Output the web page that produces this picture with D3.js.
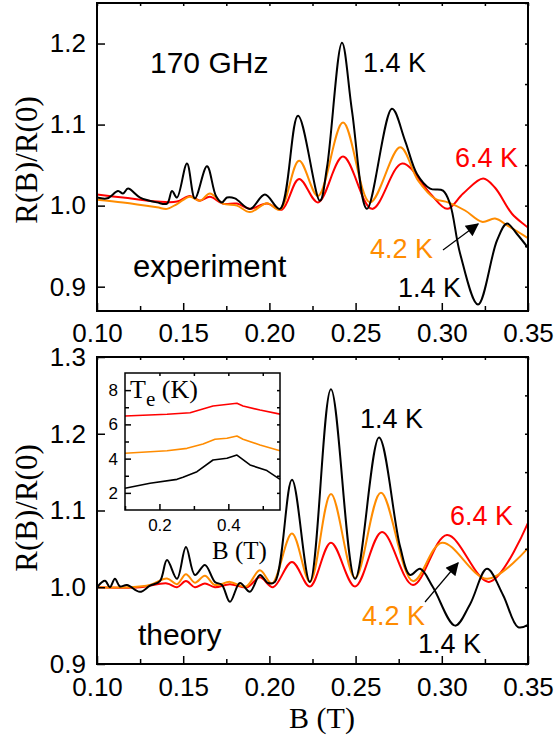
<!DOCTYPE html>
<html>
<head>
<meta charset="utf-8">
<script src="https://cdn.jsdelivr.net/npm/d3@7"></script>
<style>
body { margin: 0; background: #fff; }
</style>
</head>
<body>
<div id="container"></div>
<script>
//Width and height
var w = 557;
var h = 747;

//experiment, [B (T), R(B)/R(0)]
var exp14 = [[0.100, 1.010], [0.106, 1.009], [0.1122, 1.018], [0.1151, 1.015], [0.118, 1.021],
    [0.125, 1.010], [0.1348, 1.004], [0.1406, 1.0025], [0.1435, 1.018], [0.1464, 1.010],
    [0.1522, 1.052], [0.1568, 1.009], [0.1638, 1.0486], [0.169, 1.012], [0.1725, 1.004],
    [0.1754, 1.010], [0.180, 1.009], [0.1887, 0.996], [0.1974, 1.0136], [0.2061, 0.996],
    [0.2166, 1.111], [0.2293, 1.006], [0.2334, 1.047], [0.2421, 1.201], [0.2479, 1.117],
    [0.2566, 0.996], [0.2711, 1.1195], [0.2787, 1.08], [0.2856, 1.039], [0.2932, 1.021],
    [0.3007, 1.0185], [0.3048, 1.002], [0.3106, 0.941], [0.321, 0.878], [0.332, 0.957],
    [0.3378, 0.978], [0.3436, 0.965], [0.350, 0.948]];
var exp42 = [[0.100, 1.0074], [0.1151, 1.004], [0.1348, 0.998], [0.1406, 0.996], [0.1464, 1.002],
    [0.1539, 1.011], [0.1597, 1.006], [0.1655, 1.015], [0.173, 1.0025], [0.1812, 1.0],
    [0.1887, 0.992], [0.1986, 1.003], [0.2061, 0.995], [0.2172, 1.0555], [0.2282, 1.012],
    [0.2427, 1.1025], [0.2584, 1.004], [0.2758, 1.072], [0.2862, 1.031], [0.2961, 1.0085],
    [0.3036, 1.004], [0.3135, 0.994], [0.3233, 0.980], [0.3309, 0.984], [0.3384, 0.975],
    [0.350, 0.960]];
var exp64 = [[0.100, 1.0136], [0.1151, 1.010], [0.1348, 1.005], [0.1464, 1.005], [0.1539, 1.012],
    [0.1597, 1.006], [0.1655, 1.011], [0.173, 1.0025], [0.1812, 1.0025], [0.1887, 0.996],
    [0.1986, 1.0025], [0.2072, 0.995], [0.2172, 1.033], [0.2282, 1.004], [0.2427, 1.0605],
    [0.2595, 0.996], [0.277, 1.052], [0.2932, 1.015], [0.3031, 0.996], [0.3124, 1.015],
    [0.324, 1.0335], [0.3309, 1.022], [0.3407, 0.990], [0.350, 0.973]];

//theory, [B (T), R(B)/R(0)]
var th14 = [[0.100, 1.000], [0.1046, 1.0085], [0.1075, 1.000], [0.1104, 1.011], [0.1133, 1.001],
    [0.1174, 1.003], [0.1249, 0.994], [0.1307, 1.002], [0.1365, 1.008], [0.1406, 1.0355],
    [0.1464, 1.011], [0.1516, 1.0525], [0.1568, 1.016], [0.1626, 1.029], [0.1684, 1.007],
    [0.1725, 1.003], [0.1771, 0.981], [0.1829, 1.0055], [0.1887, 0.994], [0.1945, 1.016],
    [0.1992, 1.0055], [0.2032, 1.007], [0.2131, 1.14], [0.2235, 1.007], [0.2357, 1.258],
    [0.2497, 1.011], [0.2636, 1.195], [0.2758, 1.053], [0.2816, 1.016], [0.2874, 1.024],
    [0.2949, 1.0], [0.3077, 0.950], [0.3164, 0.978], [0.3262, 1.024], [0.3355, 0.990],
    [0.3442, 0.948], [0.350, 0.951]];
var th42 = [[0.100, 1.000], [0.1191, 1.000], [0.1307, 1.003], [0.1406, 1.0115], [0.1464, 1.004],
    [0.1516, 1.017], [0.1568, 1.006], [0.1626, 1.015], [0.1684, 1.003], [0.1771, 1.007],
    [0.1864, 1.001], [0.1945, 1.022], [0.2015, 1.005], [0.2131, 1.070], [0.2235, 1.007],
    [0.2357, 1.1215], [0.2497, 1.012], [0.2647, 1.123], [0.2833, 1.008], [0.3001, 1.058],
    [0.3262, 1.011], [0.350, 1.051]];
var th64 = [[0.100, 1.000], [0.1249, 1.000], [0.1406, 1.005], [0.1464, 1.000], [0.1516, 1.008],
    [0.1568, 1.000], [0.1626, 1.005], [0.1684, 1.000], [0.1771, 1.004], [0.187, 1.000],
    [0.1945, 1.013], [0.2021, 1.000], [0.2131, 1.033], [0.2235, 1.001], [0.2357, 1.058],
    [0.2497, 1.001], [0.2653, 1.072], [0.2833, 1.003], [0.303, 1.068], [0.3274, 1.007],
    [0.350, 1.084]];

//inset electron temperature, [B (T), Te (K)]
var te14 = [[0.100, 2.27], [0.1726, 2.56], [0.251, 2.79], [0.2684, 2.91], [0.309, 3.24],
    [0.3555, 3.92], [0.396, 4.02], [0.425, 4.21], [0.463, 3.63], [0.512, 3.30], [0.550, 2.79]];
var te42 = [[0.100, 4.31], [0.222, 4.46], [0.280, 4.60], [0.3265, 4.85], [0.3613, 5.13],
    [0.396, 5.19], [0.425, 5.32], [0.4426, 5.13], [0.492, 4.80], [0.550, 4.46]];
var te64 = [[0.100, 6.49], [0.222, 6.59], [0.289, 6.68], [0.3555, 7.07], [0.425, 7.23],
    [0.4426, 7.07], [0.492, 6.84], [0.550, 6.60]];

var xTicks = [0.10, 0.15, 0.20, 0.25, 0.30, 0.35];
var topYTicks = [0.9, 1.0, 1.1, 1.2];
var botYTicks = [0.9, 1.0, 1.1, 1.2, 1.3];
var insetXTicks = [0.2, 0.4];
var insetYTicks = [2, 4, 6, 8];

var black = '#000000';
var orange = '#ff8c00';
var red = '#ff0000';

var svg = d3.select('#container')
    .append('svg')
    .attr('width', w)
    .attr('height', h)
    .style('background', '#fff');

var defs = svg.append('defs');
defs.append('marker')
    .attr('id', 'arrow')
    .attr('viewBox', '0 0 10 10')
    .attr('refX', 9)
    .attr('refY', 5)
    .attr('markerWidth', 16)
    .attr('markerHeight', 13)
    .attr('markerUnits', 'userSpaceOnUse')
    .attr('orient', 'auto')
    .append('path')
    .attr('d', 'M0,0 L10,5 L0,10 Z')
    .attr('fill', 'black');

var x = d3.scaleLinear().domain([0.10, 0.35]).range([97, 528]);

function minors(a, b, step) {
    var out = [];
    for (var v = a; v <= b + 1e-9; v += step) out.push(+v.toFixed(4));
    return out;
}

function drawPanel(id, y, yTicks, series, xLabelPad) {
    var g = svg.append('g');
    var x0 = x.range()[0], x1 = x.range()[1];
    var y0 = y.range()[1], y1 = y.range()[0];

    defs.append('clipPath')
        .attr('id', 'clip' + id)
        .append('rect')
        .attr('x', x0).attr('y', y0)
        .attr('width', x1 - x0).attr('height', y1 - y0);

    var line = d3.line()
        .x(function(d) { return x(d[0]); })
        .y(function(d) { return y(d[1]); })
        .curve(d3.curveCatmullRom.alpha(0.5));

    var lines = g.append('g').attr('clip-path', 'url(#clip' + id + ')');
    series.forEach(function(s) {
        lines.append('path')
            .datum(s.data)
            .attr('fill', 'none')
            .attr('stroke', s.color)
            .attr('stroke-width', 2)
            .attr('stroke-linejoin', 'round')
            .attr('d', line);
    });

    var yd = y.domain();
    //minor ticks
    g.append('g')
        .attr('transform', 'translate(0,' + y1 + ')')
        .call(d3.axisBottom(x).tickValues(minors(0.125, 0.325, 0.05)).tickSize(-5).tickFormat(''));
    g.append('g')
        .attr('transform', 'translate(' + x0 + ',0)')
        .call(d3.axisLeft(y).tickValues(minors(Math.ceil(yd[0] * 20) / 20, yd[1], 0.1).filter(function(v) {
            return Math.abs(v * 10 - Math.round(v * 10)) > 0.01;
        })).tickSize(-5).tickFormat(''));
    //top and right ticks
    g.append('g')
        .attr('transform', 'translate(0,' + y0 + ')')
        .call(d3.axisTop(x).tickValues(minors(0.10, 0.35, 0.025)).tickSize(-3).tickFormat(''));
    g.append('g')
        .attr('transform', 'translate(' + x1 + ',0)')
        .call(d3.axisRight(y).tickValues(minors(Math.ceil(yd[0] * 20) / 20, yd[1], 0.05)).tickSize(-3).tickFormat(''));

    //major ticks with labels
    g.append('g')
        .attr('class', 'xaxis')
        .attr('transform', 'translate(0,' + y1 + ')')
        .call(d3.axisBottom(x).tickValues(xTicks).tickSizeInner(-8).tickSizeOuter(0)
            .tickPadding(xLabelPad).tickFormat(d3.format('.2f')));
    g.append('g')
        .attr('class', 'yaxis')
        .attr('transform', 'translate(' + x0 + ',0)')
        .call(d3.axisLeft(y).tickValues(yTicks).tickSizeInner(-8).tickSizeOuter(0)
            .tickPadding(11).tickFormat(d3.format('.1f')));

    g.selectAll('.domain').remove();
    g.selectAll('.tick line').attr('stroke', 'black').attr('stroke-width', 1.5);
    g.selectAll('.xaxis text, .yaxis text')
        .attr('font-family', 'Liberation Sans, Arial, sans-serif')
        .attr('font-size', 26)
        .attr('fill', 'black');

    g.append('rect')
        .attr('x', x0).attr('y', y0)
        .attr('width', x1 - x0).attr('height', y1 - y0)
        .attr('fill', 'none')
        .attr('stroke', 'black')
        .attr('stroke-width', 2);
    return g;
}

//top panel: experiment
var yTop = d3.scaleLinear().domain([0.87, 1.25]).range([311, 3]);
var gTop = drawPanel('top', yTop, topYTicks, [
    { data: exp64, color: red },
    { data: exp42, color: orange },
    { data: exp14, color: black }
], 13);

//bottom panel: theory
var yBot = d3.scaleLinear().domain([0.9, 1.3]).range([664, 357]);
var gBot = drawPanel('bot', yBot, botYTicks, [
    { data: th64, color: red },
    { data: th42, color: orange },
    { data: th14, color: black }
], 14);

//text labels
function label(g, tx, ty, str, color, size) {
    g.append('text')
        .attr('x', tx)
        .attr('y', ty)
        .attr('fill', color)
        .attr('font-family', 'Liberation Sans, Arial, sans-serif')
        .attr('font-size', size || 27)
        .text(str);
}

label(gTop, 150, 73, '170 GHz', black, 30);
label(gTop, 363, 72, '1.4 K', black);
label(gTop, 455, 167, '6.4 K', red);
label(gTop, 370, 258, '4.2 K', orange);
label(gTop, 398, 297, '1.4 K', black);
label(gTop, 133, 277, 'experiment', black, 31);

label(gBot, 360, 428, '1.4 K', black);
label(gBot, 450, 525, '6.4 K', red);
label(gBot, 362, 625, '4.2 K', orange);
label(gBot, 418, 653, '1.4 K', black);
label(gBot, 138, 645, 'theory', black, 30);

//arrows
svg.append('line')
    .attr('x1', 443).attr('y1', 250).attr('x2', 478).attr('y2', 224)
    .attr('stroke', 'black').attr('stroke-width', 1.2)
    .attr('marker-end', 'url(#arrow)');
svg.append('line')
    .attr('x1', 425).attr('y1', 602).attr('x2', 458).attr('y2', 563)
    .attr('stroke', 'black').attr('stroke-width', 1.2)
    .attr('marker-end', 'url(#arrow)');

//axis titles
[160, 508].forEach(function(cy) {
    svg.append('text')
        .attr('transform', 'translate(37,' + cy + ') rotate(-90)')
        .attr('text-anchor', 'middle')
        .attr('font-family', 'Liberation Serif, Times New Roman, serif')
        .attr('font-size', 31)
        .text('R(B)/R(0)');
});
svg.append('text')
    .attr('x', 322)
    .attr('y', 728)
    .attr('text-anchor', 'middle')
    .attr('font-family', 'Liberation Serif, Times New Roman, serif')
    .attr('font-size', 30)
    .text('B (T)');

//inset
var ix = d3.scaleLinear().domain([0.1, 0.55]).range([125, 280]);
var iy = d3.scaleLinear().domain([1, 9]).range([510, 373]);
var inset = svg.append('g');
inset.append('rect')
    .attr('x', 125).attr('y', 373)
    .attr('width', 155).attr('height', 137)
    .attr('fill', 'white');

var iline = d3.line()
    .x(function(d) { return ix(d[0]); })
    .y(function(d) { return iy(d[1]); })
    .curve(d3.curveLinear);
[[te64, red], [te42, orange], [te14, black]].forEach(function(s) {
    inset.append('path')
        .datum(s[0])
        .attr('fill', 'none')
        .attr('stroke', s[1])
        .attr('stroke-width', 1.6)
        .attr('stroke-linejoin', 'round')
        .attr('d', iline);
});

inset.append('g')
    .attr('transform', 'translate(0,510)')
    .call(d3.axisBottom(ix).tickValues([0.1, 0.3, 0.5]).tickSize(-4).tickFormat(''));
inset.append('g')
    .attr('transform', 'translate(125,0)')
    .call(d3.axisLeft(iy).tickValues([3, 5, 7]).tickSize(-4).tickFormat(''));
inset.append('g')
    .attr('transform', 'translate(280,0)')
    .call(d3.axisRight(iy).tickValues([2, 3, 4, 5, 6, 7, 8]).tickSize(-3).tickFormat(''));
inset.append('g')
    .attr('transform', 'translate(0,373)')
    .call(d3.axisTop(ix).tickValues([0.2, 0.3, 0.4, 0.5]).tickSize(-3).tickFormat(''));
inset.append('g')
    .attr('class', 'ixaxis')
    .attr('transform', 'translate(0,510)')
    .call(d3.axisBottom(ix).tickValues(insetXTicks).tickSizeInner(-6).tickSizeOuter(0)
        .tickPadding(9).tickFormat(d3.format('.1f')));
inset.append('g')
    .attr('class', 'iyaxis')
    .attr('transform', 'translate(125,0)')
    .call(d3.axisLeft(iy).tickValues(insetYTicks).tickSizeInner(-6).tickSizeOuter(0)
        .tickPadding(7).tickFormat(d3.format('d')));
inset.selectAll('.domain').remove();
inset.selectAll('.tick line').attr('stroke', 'black').attr('stroke-width', 1.5);
inset.selectAll('.ixaxis text, .iyaxis text')
    .attr('font-family', 'Liberation Sans, Arial, sans-serif')
    .attr('font-size', 17)
    .attr('fill', 'black');
inset.append('rect')
    .attr('x', 125).attr('y', 373)
    .attr('width', 155).attr('height', 137)
    .attr('fill', 'none')
    .attr('stroke', 'black')
    .attr('stroke-width', 1.5);

var teLabel = inset.append('text')
    .attr('x', 130)
    .attr('y', 398)
    .attr('font-family', 'Liberation Serif, Times New Roman, serif')
    .attr('font-size', 26);
teLabel.append('tspan').text('T');
teLabel.append('tspan').attr('dy', 8).attr('font-size', 21).text('e');
teLabel.append('tspan').attr('dy', -8).text(' (K)');

svg.append('text')
    .attr('x', 212)
    .attr('y', 559)
    .attr('font-family', 'Liberation Serif, Times New Roman, serif')
    .attr('font-size', 25)
    .text('B (T)');
</script>
</body>
</html>
